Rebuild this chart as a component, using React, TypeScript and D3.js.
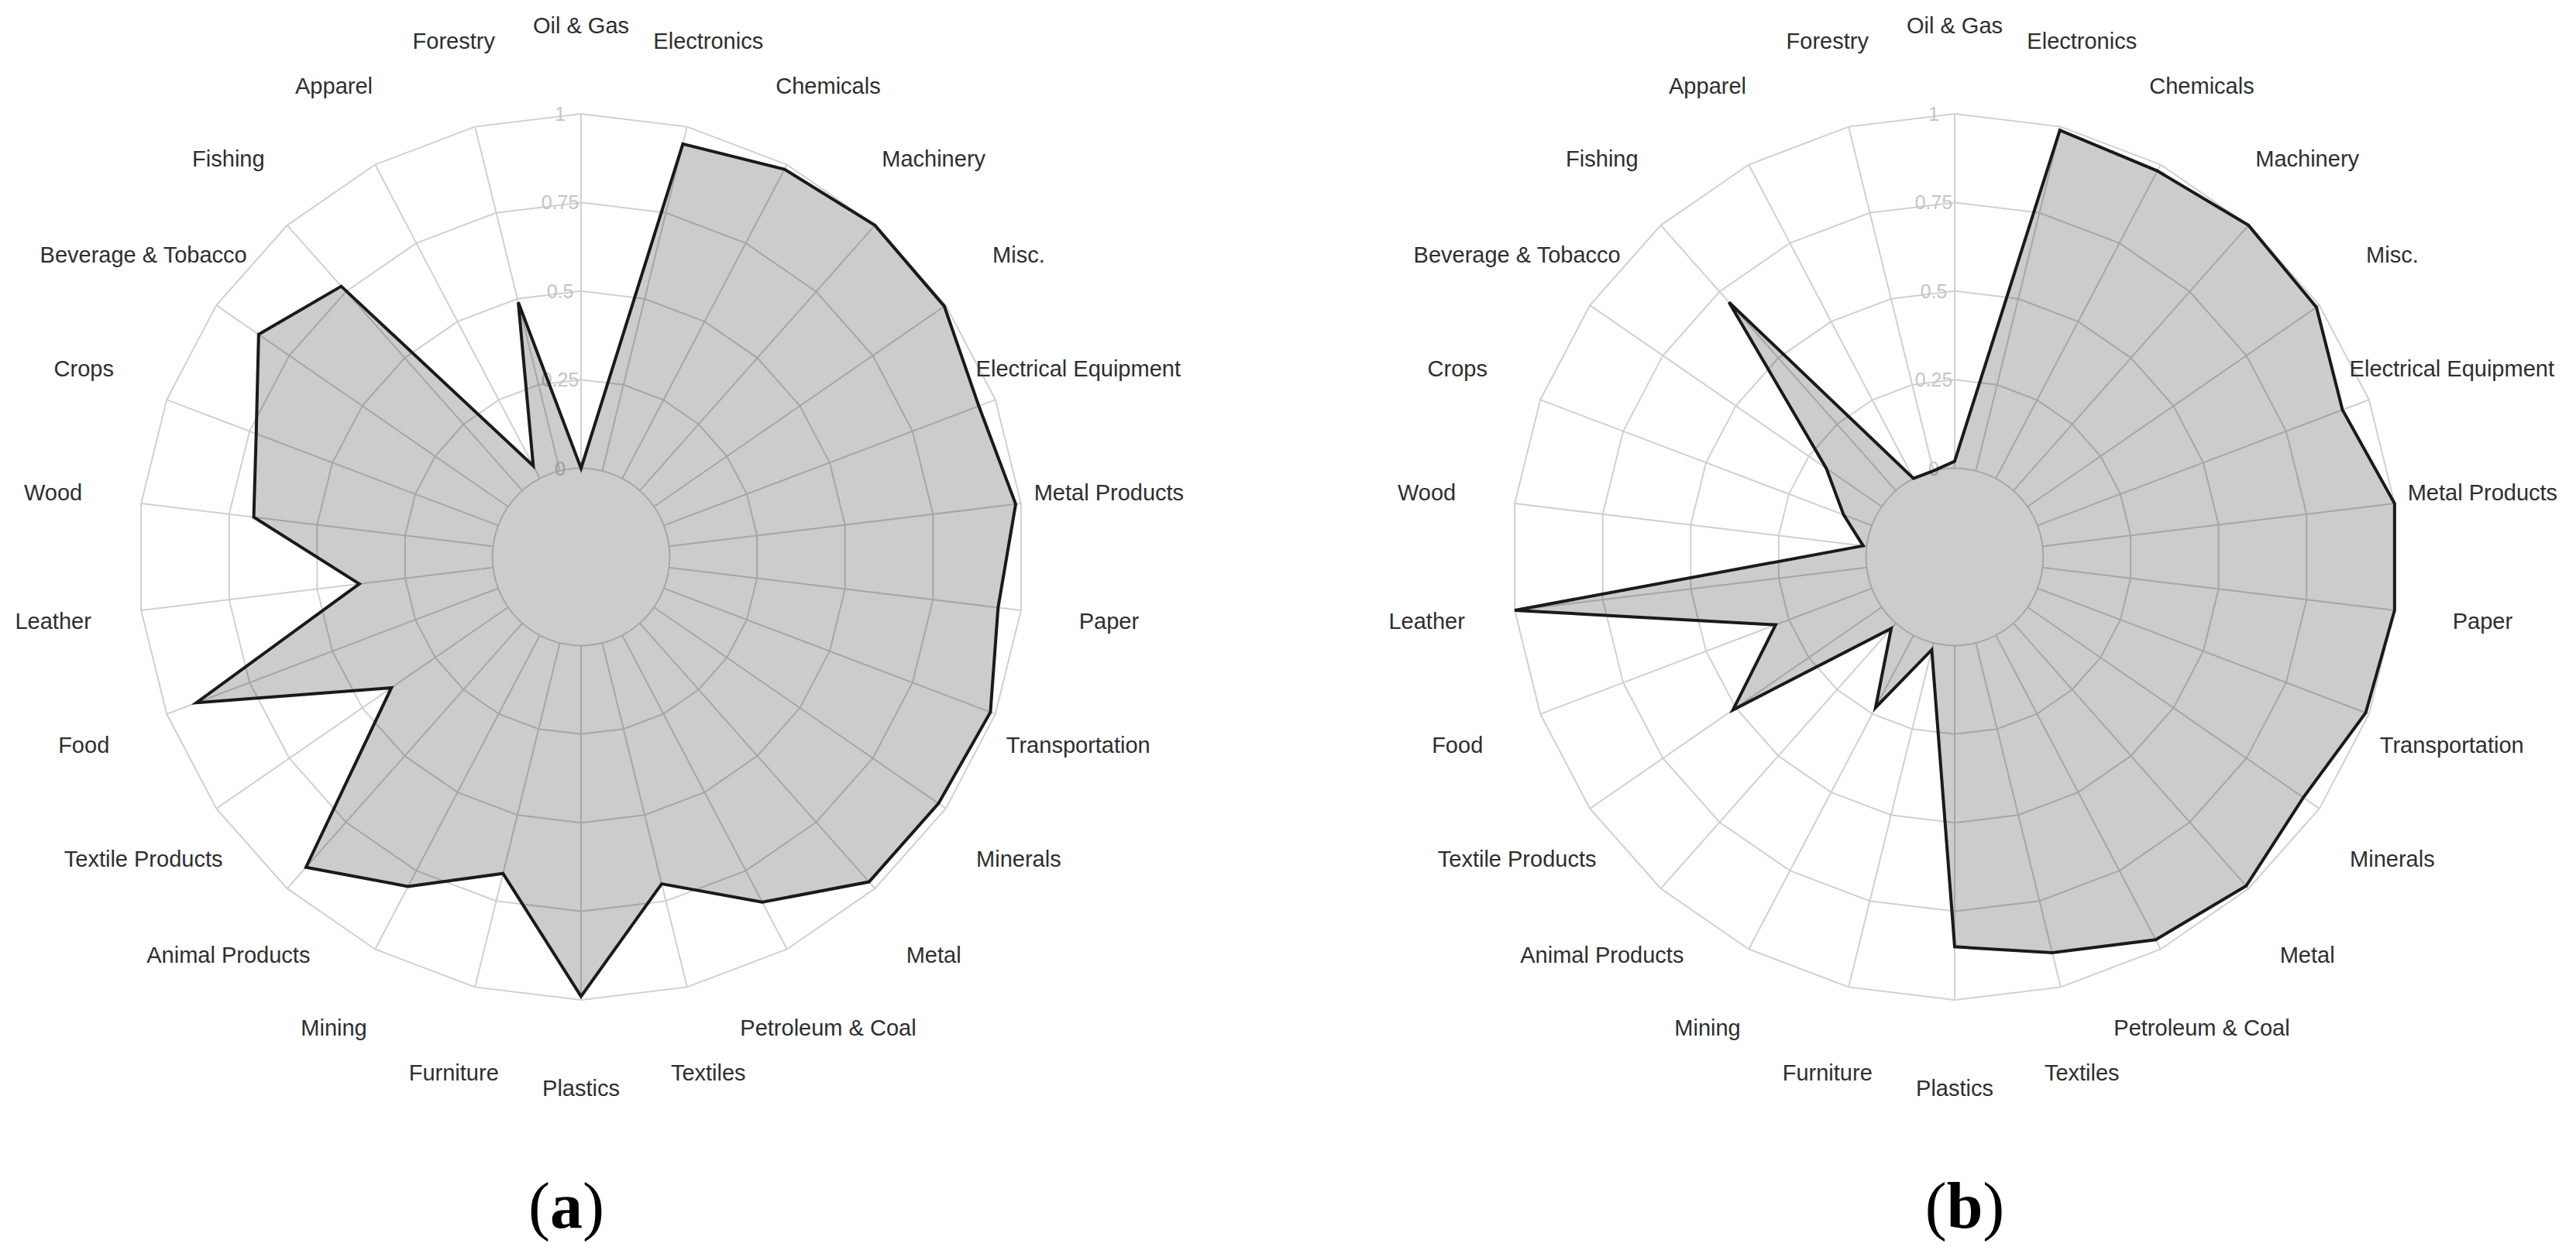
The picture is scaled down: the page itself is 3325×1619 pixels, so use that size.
import React from "react";
import * as d3 from "d3";

const categories = [
  "Oil & Gas", "Electronics", "Chemicals", "Machinery", "Misc.", "Electrical Equipment",
  "Metal Products", "Paper", "Transportation", "Minerals", "Metal", "Petroleum & Coal",
  "Textiles", "Plastics", "Furniture", "Mining", "Animal Products", "Textile Products",
  "Food", "Leather", "Wood", "Crops", "Beverage & Tobacco", "Fishing", "Apparel", "Forestry",
];

// (a)
const valuesA = [
  0.0, 0.95, 0.985, 1.0, 0.995, 0.95, 0.985, 0.935, 0.985, 0.975, 0.975, 0.85, 0.7,
  0.99, 0.67, 0.8, 0.92, 0.4, 0.91, 0.38, 0.68, 0.73, 0.855, 0.77, 0.04, 0.49,
];

// (b)
const valuesB = [
  0.02, 0.99, 0.98, 1.0, 0.99, 0.92, 1.0, 1.0, 0.99, 0.945, 0.99, 0.97, 0.9,
  0.85, 0.02, 0.23, 0.02, 0.51, 0.29, 1.0, 0.01, 0.085, 0.19, 0.71, 0.0, 0.0,
];

const gridLevels = [0.25, 0.5, 0.75, 1];
const tickValues = [0, 0.25, 0.5, 0.75, 1];
const tickLabels = ["0", "0.25", "0.5", "0.75", "1"];

const W = 3325;
const H = 1619;
const CY = 719;
const OUTER = 572;

const r = d3.scaleLinear().domain([-0.25, 1]).range([0, OUTER]);
const angle = d3.scaleLinear().domain([0, categories.length]).range([0, 2 * Math.PI]);

const radialLine = d3
  .lineRadial<number>()
  .angle((_, i) => angle(i))
  .radius((d) => r(d))
  .curve(d3.curveLinearClosed);

function Radar({ cx, values, letter, captionX }: { cx: number; values: number[]; letter: string; captionX: number }) {
  return (
    <g>
      <g transform={`translate(${cx},${CY})`}>
        {gridLevels.map((lvl) => (
          <path key={lvl} d={radialLine(categories.map(() => lvl)) || ""} fill="none" stroke="#d0d0d0" strokeWidth={2} />
        ))}
        <circle r={r(0)} fill="none" stroke="#d0d0d0" strokeWidth={2} />
        {categories.map((c, i) => {
          const a = angle(i);
          return (
            <line
              key={c}
              x1={r(0) * Math.sin(a)}
              y1={-r(0) * Math.cos(a)}
              x2={r(1) * Math.sin(a)}
              y2={-r(1) * Math.cos(a)}
              stroke="#d0d0d0"
              strokeWidth={2}
            />
          );
        })}
        {tickValues.map((t, i) => (
          <text
            key={t}
            x={-27}
            y={-r(t)}
            textAnchor="middle"
            dominantBaseline="central"
            fontFamily="'Liberation Sans', Arial, sans-serif"
            fontSize={25}
            fill="#c4c4c4"
          >
            {tickLabels[i]}
          </text>
        ))}
        <path
          d={radialLine(values) || ""}
          fill="#000"
          fillOpacity={0.2}
          stroke="#1a1a1a"
          strokeWidth={4}
          strokeLinejoin="miter"
        />
        {categories.map((c, i) => {
          const a = angle(i);
          const rr = r(1.25);
          return (
            <text
              key={c}
              x={rr * Math.sin(a)}
              y={-rr * Math.cos(a)}
              textAnchor="middle"
              dominantBaseline="central"
              fontFamily="'Liberation Sans', Arial, sans-serif"
              fontSize={29}
              fill="#2e2e2e"
            >
              {c}
            </text>
          );
        })}
      </g>
      <text
        x={captionX}
        y={1585}
        textAnchor="middle"
        fontFamily="'Liberation Serif', 'Times New Roman', serif"
        fontSize={84}
        fill="#000"
      >
        (<tspan fontWeight="bold">{letter}</tspan>)
      </text>
    </g>
  );
}

export default function App() {
  return (
    <svg
      width={W}
      height={H}
      viewBox={`0 0 ${W} ${H}`}
      style={{ position: "absolute", left: 0, top: 0, background: "#fff" }}
    >
      <rect width={W} height={H} fill="#fff" />
      <Radar cx={750} values={valuesA} letter="a" captionX={731} />
      <Radar cx={2523} values={valuesB} letter="b" captionX={2536} />
    </svg>
  );
}
